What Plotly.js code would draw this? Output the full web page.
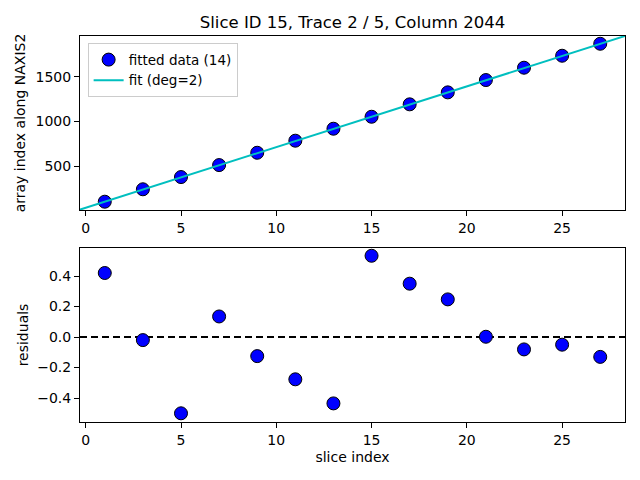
<!DOCTYPE html>
<html>
<head>
<meta charset="utf-8">
<script src="https://cdn.plot.ly/plotly-3.0.1.min.js"></script>
<style>
  html, body { margin: 0; padding: 0; background: #fff; }
  #chart { width: 640px; height: 480px; }
</style>
</head>
<body>
<div id="chart"></div>
<script>
// slice indices and the measured positions along NAXIS2
var sliceIdx = [1, 3, 5, 7, 9, 11, 13, 15, 17, 19, 21, 23, 25, 27];
var arrayIdx = [101, 240, 377, 511, 649, 784, 918, 1052, 1191, 1325, 1463, 1601, 1735, 1869];

// fitted curve at a few x positions
var fitX = [-0.3, 7, 14, 21, 28.3];
var fitY = [12.5, 508, 983, 1458, 1956];

// residuals (data - fit)
var residuals = [0.42, -0.02, -0.50, 0.135, -0.125, -0.277, -0.435, 0.533, 0.35, 0.247, 0.002, -0.081, -0.05, -0.13];

var fnt = 'DejaVu Sans, sans-serif';
var xRange = [-0.3, 28.3];

var markerStyle = {
    size: 13,
    color: '#0000ff',
    line: {color: '#000000', width: 1}
};

var traces = [{
    type: 'scatter',
    mode: 'markers',
    x: sliceIdx,
    y: arrayIdx,
    name: 'fitted data (14)',
    marker: markerStyle,
    xaxis: 'x',
    yaxis: 'y'
}, {
    type: 'scatter',
    mode: 'lines',
    x: fitX,
    y: fitY,
    name: 'fit (deg=2)',
    line: {color: '#00bfbf', width: 2},
    xaxis: 'x',
    yaxis: 'y'
}, {
    type: 'scatter',
    mode: 'markers',
    x: sliceIdx,
    y: residuals,
    showlegend: false,
    marker: markerStyle,
    xaxis: 'x2',
    yaxis: 'y2'
}];

function axisBase(extra) {
    var a = {
        showgrid: false,
        zeroline: false,
        showline: true,
        linecolor: '#000',
        linewidth: 1,
        mirror: true,
        ticks: 'outside',
        ticklen: 5,
        tickwidth: 1,
        tickcolor: '#000',
        tickfont: {family: fnt, size: 14, color: '#000'}
    };
    for (var k in extra) a[k] = extra[k];
    return a;
}

var layout = {
    width: 640,
    height: 480,
    paper_bgcolor: '#fff',
    plot_bgcolor: '#fff',
    margin: {l: 80, r: 15, t: 36, b: 58},
    font: {family: fnt, color: '#000'},
    title: {
        text: 'Slice ID 15, Trace 2 / 5, Column 2044',
        font: {family: fnt, size: 16.5, color: '#000'},
        xref: 'paper', x: 0.5, xanchor: 'center',
        yref: 'container', y: 1 - 22 / 480, yanchor: 'middle'
    },
    showlegend: true,
    legend: {
        x: 0.014, y: 0.981, xanchor: 'left', yanchor: 'top',
        bgcolor: 'rgba(255,255,255,0.8)',
        bordercolor: '#cccccc',
        borderwidth: 1,
        tracegroupgap: 0,
        font: {family: fnt, size: 13.5, color: '#000'}
    },
    xaxis: axisBase({
        domain: [0, 1],
        anchor: 'y',
        range: xRange,
        tickvals: [0, 5, 10, 15, 20, 25]
    }),
    yaxis: axisBase({
        domain: [0.5492, 1],
        anchor: 'x',
        range: [8, 1956],
        tickvals: [500, 1000, 1500],
        title: {text: 'array index along NAXIS2', font: {family: fnt, size: 14}, standoff: 6}
    }),
    xaxis2: axisBase({
        domain: [0, 1],
        anchor: 'y2',
        range: xRange,
        tickvals: [0, 5, 10, 15, 20, 25],
        title: {text: 'slice index', font: {family: fnt, size: 14}, standoff: 5}
    }),
    yaxis2: axisBase({
        domain: [0, 0.4508],
        anchor: 'x2',
        range: [-0.557, 0.584],
        tickvals: [-0.4, -0.2, 0, 0.2, 0.4],
        ticktext: ['\u22120.4', '\u22120.2', '0.0', '0.2', '0.4'],
        title: {text: 'residuals', font: {family: fnt, size: 14}, standoff: 5}
    }),
    shapes: [{
        type: 'line',
        xref: 'x2 domain', x0: 0, x1: 1,
        yref: 'y2', y0: 0, y1: 0,
        line: {color: '#000', width: 2, dash: '7px,4px'},
        layer: 'below'
    }]
};

Plotly.newPlot('chart', traces, layout, {staticPlot: true, displayModeBar: false});
</script>
</body>
</html>
